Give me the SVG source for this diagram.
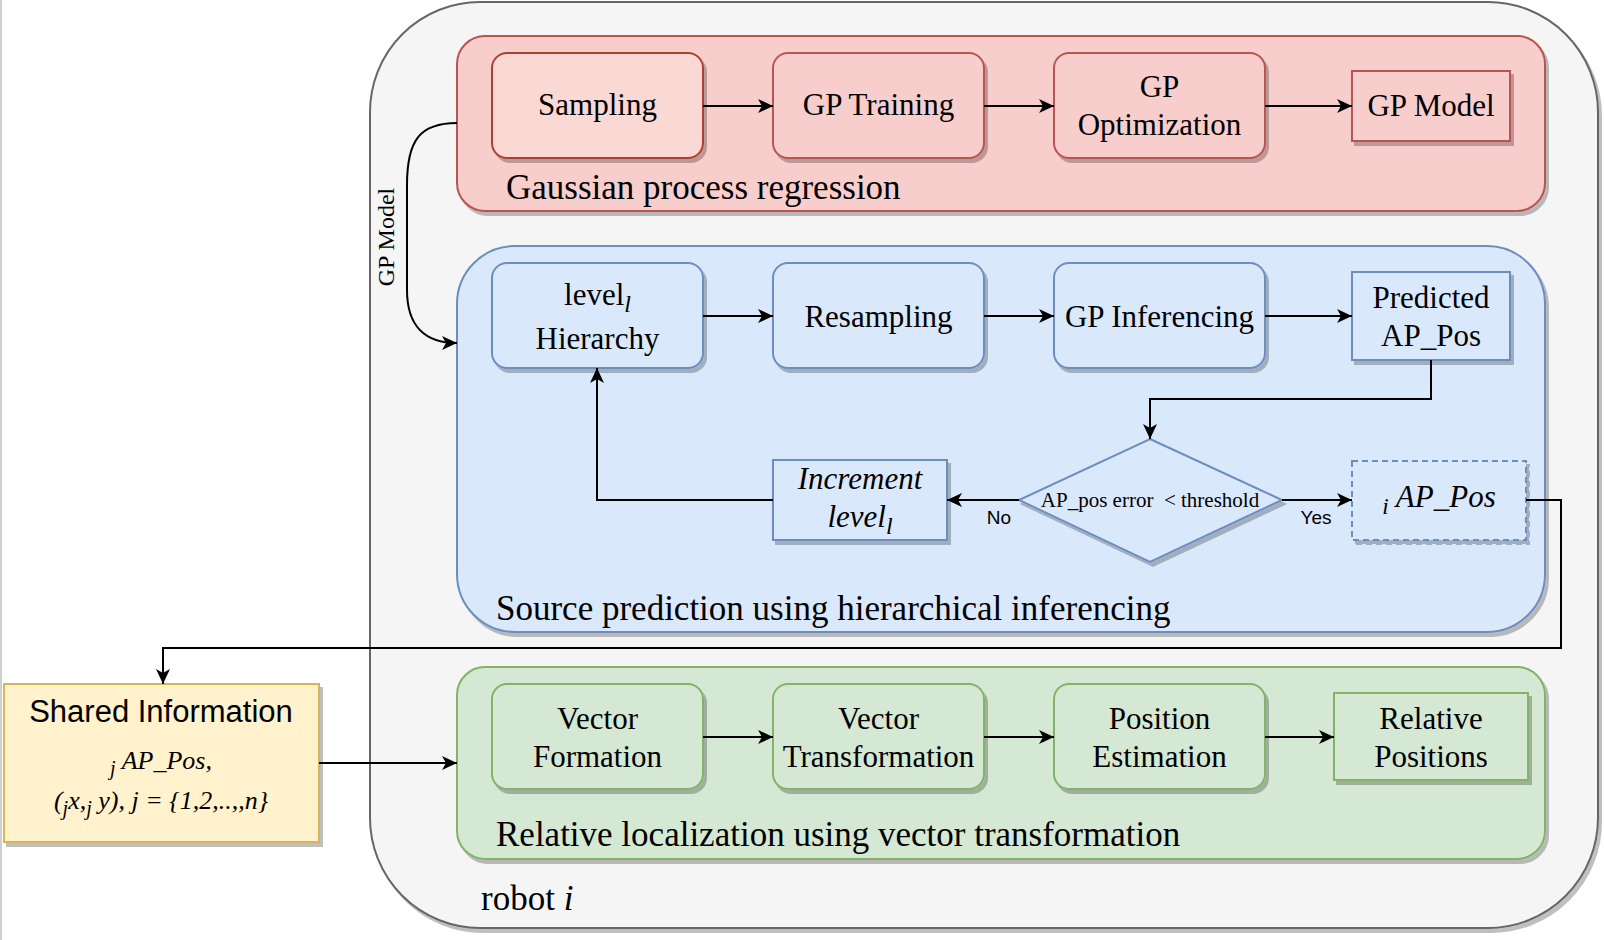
<svg xmlns="http://www.w3.org/2000/svg" width="1604" height="940" viewBox="0 0 1604 940">
<style>
.t{font-family:"Liberation Serif","Times New Roman",serif;fill:#000}
.a{font-family:"Liberation Sans",Arial,sans-serif;fill:#000}
.n{font-size:31px}
.g{font-size:35px}
.it{font-style:italic}
.red{fill:#f8cecc;stroke:#b85450;stroke-width:2}
.blue{fill:#dae8fc;stroke:#6c8ebf;stroke-width:2}
.green{fill:#d5e8d4;stroke:#82b366;stroke-width:2}
.c{fill:none;stroke:#000;stroke-width:2}
</style>
<defs>
<filter id="sh" x="-10%" y="-10%" width="125%" height="125%"><feDropShadow dx="3" dy="4" stdDeviation="0.6" flood-color="#000" flood-opacity="0.25"/></filter>
<marker id="arr" markerUnits="userSpaceOnUse" markerWidth="17" markerHeight="14" refX="15" refY="7" orient="auto"><path d="M0,0 L15,7 L0,14 L4,7 Z" fill="#000"/></marker>
</defs>
<rect width="1604" height="940" fill="#fff"/>
<line x1="1" y1="0" x2="1" y2="940" stroke="#cfcfcf" stroke-width="2"/>

<g id="robot">
<rect x="370" y="2" width="1228" height="926" rx="110" fill="#f5f5f5" stroke="#666" stroke-width="2" filter="url(#sh)"/>
<text class="t g" x="481" y="910">robot <tspan class="it">i</tspan></text>
</g>

<g id="gpr">
<rect class="red" x="457" y="36" width="1088" height="175" rx="28" filter="url(#sh)"/>
<text class="t g" x="506" y="199">Gaussian process regression</text>
</g>
<g id="sampling">
<rect x="492" y="53" width="211" height="105" rx="15" fill="#fad9d5" stroke="#ae4132" stroke-width="2" filter="url(#sh)"/>
<text class="t n" x="597.5" y="115" text-anchor="middle">Sampling</text>
</g>
<g id="gptraining">
<rect class="red" x="773" y="53" width="211" height="105" rx="15" filter="url(#sh)"/>
<text class="t n" x="878.5" y="115" text-anchor="middle">GP Training</text>
</g>
<g id="gpopt">
<rect class="red" x="1054" y="53" width="211" height="105" rx="15" filter="url(#sh)"/>
<text class="t n" x="1159.5" y="97" text-anchor="middle">GP</text>
<text class="t n" x="1159.5" y="135" text-anchor="middle">Optimization</text>
</g>
<g id="gpmodel">
<rect class="red" x="1352" y="71" width="158" height="70" filter="url(#sh)"/>
<text class="t n" x="1431" y="116" text-anchor="middle">GP Model</text>
</g>

<g id="sph">
<rect class="blue" x="457" y="246" width="1088" height="386" rx="58" filter="url(#sh)"/>
<text class="t g" x="496" y="620">Source prediction using hierarchical inferencing</text>
</g>
<g id="level">
<rect class="blue" x="492" y="263" width="211" height="105" rx="15" filter="url(#sh)"/>
<text class="t n" x="597.5" y="305" text-anchor="middle">level<tspan class="it" font-size="24" dy="7">l</tspan></text>
<text class="t n" x="597.5" y="349" text-anchor="middle">Hierarchy</text>
</g>
<g id="resampling">
<rect class="blue" x="773" y="263" width="211" height="105" rx="15" filter="url(#sh)"/>
<text class="t n" x="878.5" y="327" text-anchor="middle">Resampling</text>
</g>
<g id="gpinf">
<rect class="blue" x="1054" y="263" width="211" height="105" rx="15" filter="url(#sh)"/>
<text class="t n" x="1159.5" y="327" text-anchor="middle">GP Inferencing</text>
</g>
<g id="predicted">
<rect class="blue" x="1352" y="272" width="158" height="88" filter="url(#sh)"/>
<text class="t n" x="1431" y="308" text-anchor="middle">Predicted</text>
<text class="t n" x="1431" y="346" text-anchor="middle">AP_Pos</text>
</g>
<g id="decision">
<polygon class="blue" points="1150,439 1282,500 1150,562 1019,500" filter="url(#sh)"/>
<text class="t" font-size="21" x="1150" y="507" text-anchor="middle" style="white-space:pre">AP_pos error  &lt; threshold</text>
</g>
<g id="increment">
<rect class="blue" x="773" y="460" width="174" height="80" filter="url(#sh)"/>
<text class="t n it" x="860" y="489" text-anchor="middle">Increment</text>
<text class="t n it" x="860" y="527" text-anchor="middle">level<tspan font-size="24" dy="7">l</tspan></text>
</g>
<g id="iappos">
<rect class="blue" x="1352" y="461" width="174" height="79" stroke-dasharray="6 4" filter="url(#sh)"/>
<text class="t it" x="1439" y="507" text-anchor="middle"><tspan font-size="23" dy="7">i</tspan><tspan font-size="31" dy="-7"> AP_Pos</tspan></text>
</g>

<g id="rlvt">
<rect class="green" x="457" y="667" width="1088" height="192" rx="28" filter="url(#sh)"/>
<text class="t g" x="496" y="846">Relative localization using vector transformation</text>
</g>
<g id="vecform">
<rect class="green" x="492" y="684" width="211" height="105" rx="15" filter="url(#sh)"/>
<text class="t n" x="597.5" y="729" text-anchor="middle">Vector</text>
<text class="t n" x="597.5" y="767" text-anchor="middle">Formation</text>
</g>
<g id="vectrans">
<rect class="green" x="773" y="684" width="211" height="105" rx="15" filter="url(#sh)"/>
<text class="t n" x="878.5" y="729" text-anchor="middle">Vector</text>
<text class="t n" x="878.5" y="767" text-anchor="middle">Transformation</text>
</g>
<g id="posest">
<rect class="green" x="1054" y="684" width="211" height="105" rx="15" filter="url(#sh)"/>
<text class="t n" x="1159.5" y="729" text-anchor="middle">Position</text>
<text class="t n" x="1159.5" y="767" text-anchor="middle">Estimation</text>
</g>
<g id="relpos">
<rect class="green" x="1334" y="693" width="194" height="87" filter="url(#sh)"/>
<text class="t n" x="1431" y="729" text-anchor="middle">Relative</text>
<text class="t n" x="1431" y="767" text-anchor="middle">Positions</text>
</g>

<g id="shared">
<rect x="4" y="684" width="315" height="158" fill="#fff2cc" stroke="#d6b656" stroke-width="2" filter="url(#sh)"/>
<text class="a" font-size="31" x="161" y="722" text-anchor="middle">Shared Information</text>
<text class="t it" x="161" y="769" text-anchor="middle"><tspan font-size="20" dy="6">j</tspan><tspan font-size="26" dy="-6"> AP_Pos,</tspan></text>
<text class="t it" x="161" y="809" text-anchor="middle"><tspan font-size="26">(</tspan><tspan font-size="20" dy="6">j</tspan><tspan font-size="26" dy="-6">x,</tspan><tspan font-size="20" dy="6">j</tspan><tspan font-size="26" dy="-6"> y), j = {1,2,..,,n}</tspan></text>
</g>

<g id="connectors">
<line class="c" x1="703" y1="106" x2="773" y2="106" marker-end="url(#arr)"/>
<line class="c" x1="984" y1="106" x2="1054" y2="106" marker-end="url(#arr)"/>
<line class="c" x1="1265" y1="106" x2="1352" y2="106" marker-end="url(#arr)"/>
<line class="c" x1="703" y1="316" x2="773" y2="316" marker-end="url(#arr)"/>
<line class="c" x1="984" y1="316" x2="1054" y2="316" marker-end="url(#arr)"/>
<line class="c" x1="1265" y1="316" x2="1352" y2="316" marker-end="url(#arr)"/>
<polyline class="c" points="1431,360 1431,399 1150,399 1150,439" marker-end="url(#arr)"/>
<line class="c" x1="1019" y1="500" x2="947" y2="500" marker-end="url(#arr)"/>
<text class="a" font-size="19" x="999" y="524" text-anchor="middle">No</text>
<line class="c" x1="1282" y1="500" x2="1352" y2="500" marker-end="url(#arr)"/>
<text class="a" font-size="19" x="1316" y="524" text-anchor="middle">Yes</text>
<polyline class="c" points="773,500 597,500 597,368" marker-end="url(#arr)"/>
<polyline class="c" points="1526,500 1561,500 1561,648 163,648 163,684" marker-end="url(#arr)"/>
<line class="c" x1="319" y1="763" x2="457" y2="763" marker-end="url(#arr)"/>
<line class="c" x1="703" y1="737" x2="773" y2="737" marker-end="url(#arr)"/>
<line class="c" x1="984" y1="737" x2="1054" y2="737" marker-end="url(#arr)"/>
<line class="c" x1="1265" y1="737" x2="1334" y2="737" marker-end="url(#arr)"/>
<path class="c" d="M457,123 C420,123 407,140 407,185 L407,290 C407,326 425,343 457,343" marker-end="url(#arr)"/>
<text class="t" font-size="24" transform="translate(394,237) rotate(-90)" text-anchor="middle">GP Model</text>
</g>
</svg>
